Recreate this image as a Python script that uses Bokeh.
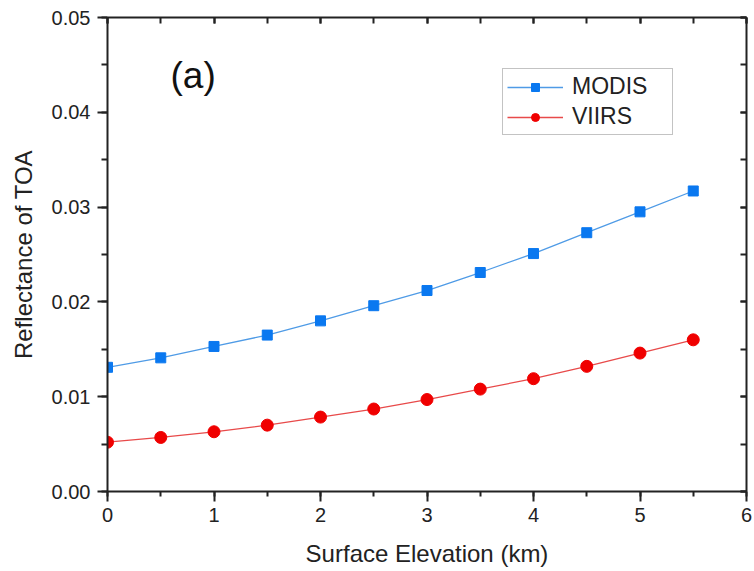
from bokeh.plotting import figure
from bokeh.models import (LinearAxis, SingleIntervalTicker, NumeralTickFormatter,
                          CustomJSTickFormatter, Range1d, Legend, LegendItem, Label)
from bokeh.embed import file_html
from bokeh.resources import INLINE

# ---- data ----
elevation_km = [0, 0.5, 1, 1.5, 2, 2.5, 3, 3.5, 4, 4.5, 5, 5.5]
modis = [0.0131, 0.0141, 0.0153, 0.0165, 0.0180, 0.0196, 0.0212,
         0.0231, 0.0251, 0.0273, 0.0295, 0.0317]
viirs = [0.0052, 0.0057, 0.0063, 0.0070, 0.00785, 0.0087, 0.0097,
         0.0108, 0.0119, 0.0132, 0.0146, 0.0160]
series_names = ["MODIS", "VIIRS"]
x_label = "Surface Elevation (km)"
y_label = "Reflectance of TOA"
panel_tag = "(a)"

FONT = "Liberation Sans"

p = figure(width=754, height=571, output_backend="svg", toolbar_location=None,
           x_range=Range1d(0, 6), y_range=Range1d(0, 0.05),
           min_border_left=107, min_border_right=8, min_border_top=17,
           min_border_bottom=80, x_axis_location=None, y_axis_location=None)
p.grid.visible = False
p.outline_line_color = None
p.background_fill_color = "white"
p.border_fill_color = "white"

xt = SingleIntervalTicker(interval=1, num_minor_ticks=2)
yt = SingleIntervalTicker(interval=0.01, num_minor_ticks=2)

def style(ax):
    ax.axis_line_width = 2
    ax.axis_line_color = "#222222"
    ax.major_tick_line_width = 2
    ax.minor_tick_line_width = 2
    ax.major_tick_line_color = "#222222"
    ax.minor_tick_line_color = "#222222"
    ax.major_label_text_font = FONT
    ax.major_label_text_font_size = "20px"
    ax.major_label_text_color = "#222222"
    ax.axis_label_text_font = FONT
    ax.axis_label_text_font_size = "24px"
    ax.axis_label_text_font_style = "normal"
    ax.axis_label_text_color = "#222222"

bottom = LinearAxis(ticker=xt, axis_label=x_label)
style(bottom)
bottom.major_tick_out = 10
bottom.major_tick_in = 0
bottom.minor_tick_out = 5
bottom.minor_tick_in = 0
bottom.major_label_standoff = 6
bottom.axis_label_standoff = 15
p.add_layout(bottom, "below")

left = LinearAxis(ticker=yt, axis_label=y_label,
                  formatter=NumeralTickFormatter(format="0.00"))
style(left)
left.major_tick_out = 10
left.major_tick_in = 0
left.minor_tick_out = 6
left.minor_tick_in = 0
left.major_label_standoff = 7
left.axis_label_standoff = 12
p.add_layout(left, "left")

blank = CustomJSTickFormatter(code="return ''")

top = LinearAxis(ticker=SingleIntervalTicker(interval=1, num_minor_ticks=2),
                 formatter=blank)
style(top)
top.major_tick_out = 0
top.major_tick_in = 6
top.minor_tick_out = 0
top.minor_tick_in = 6
top.major_label_standoff = 0
p.add_layout(top, "above")

right = LinearAxis(ticker=SingleIntervalTicker(interval=0.01, num_minor_ticks=2),
                   formatter=blank)
style(right)
right.major_tick_out = 0
right.major_tick_in = 6
right.minor_tick_out = 0
right.minor_tick_in = 6
right.major_label_standoff = 0
p.add_layout(right, "right")

m_line = p.line(elevation_km, modis, line_color="#4f9be6", line_width=1.3)
m_pts = p.scatter(elevation_km, modis, marker="square", size=10,
                  fill_color="#0a78f0", line_color="#0a78f0")
v_line = p.line(elevation_km, viirs, line_color="#e84a4a", line_width=1.3)
v_pts = p.scatter(elevation_km, viirs, marker="circle", size=12,
                  fill_color="#f00000", line_color="#f00000")

legend = Legend(items=[LegendItem(label=series_names[0], renderers=[m_line, m_pts]),
                       LegendItem(label=series_names[1], renderers=[v_line, v_pts])],
                location=(395, 356))
legend.margin = 0
legend.padding = 4
legend.spacing = 3
legend.glyph_width = 56
legend.glyph_height = 20
legend.label_height = 20
legend.label_width = 96
legend.label_standoff = 9
legend.label_text_font = FONT
legend.label_text_font_size = "23px"
legend.label_text_color = "#222222"
legend.border_line_color = "#888888"
legend.border_line_width = 1.5
legend.background_fill_alpha = 1
p.add_layout(legend, "center")

tag = Label(x=170 - 107, y=474 - 58, x_units="screen", y_units="screen",
            text=panel_tag, text_font=FONT, text_font_size="37px",
            text_color="#111111", text_baseline="middle")
p.add_layout(tag)

open("out.html", "w").write(file_html(p, INLINE))
